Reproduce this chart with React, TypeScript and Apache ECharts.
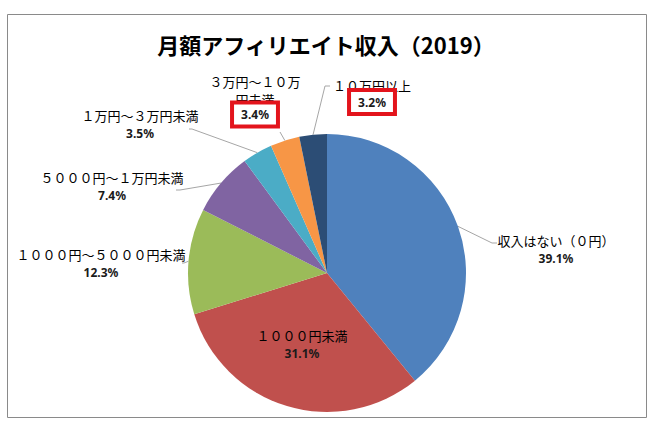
import React, { useEffect, useRef } from 'react';
import * as echarts from 'echarts';

const chartTitle = '月額アフィリエイト収入（2019）';
const categories = [
  '収入はない（０円）',
  '１０００円未満',
  '１０００円～５０００円未満',
  '５０００円～１万円未満',
  '１万円～３万円未満',
  '３万円～１０万円未満',
  '１０万円以上',
];
const shares = [39.1, 31.1, 12.3, 7.4, 3.5, 3.4, 3.2];
const sliceColors = ['#4F81BD', '#C0504D', '#9BBB59', '#8064A2', '#4BACC6', '#F79646', '#2C4D75'];
const boxedLabels = [5, 6];
const insideLabels = [1];

// layout only: label block centres, leader-line bends, name wrap positions
const labelCenters = [[556, 249], [302, 344], [101, 263], [112, 186], [140, 124], [255, 97], [372, 92]];
const leaderBends: (number[][] | null)[] = [
  [[492, 243], [497, 243]],
  null,
  [[184, 263], [182, 263]],
  [[180, 190], [176, 190]],
  [[192, 129], [189, 129]],
  [[280, 132], [280, 132]],
  [[325, 86], [330, 86]],
];
const wrapAt = [0, 0, 0, 0, 0, 7, 0];

export default function App() {
  const ref = useRef<HTMLDivElement>(null);
  useEffect(() => {
    const chart = echarts.init(ref.current!, null, { renderer: 'svg' });
    const option: any = {
      animation: false,
      backgroundColor: '#fff',
      title: {
        text: chartTitle,
        left: 'center',
        top: 33,
        padding: 0,
        textStyle: { fontSize: 22, fontWeight: 'bold', fontFamily: 'Noto Sans CJK JP', color: '#000' },
      },
      graphic: [
        {
          type: 'rect',
          silent: true,
          z: 0,
          shape: { x: 7.5, y: 14.5, width: 639, height: 403 },
          style: { fill: 'none', stroke: '#8a8a8a', lineWidth: 1 },
        },
      ],
      series: [
        {
          type: 'pie',
          center: [327, 273],
          radius: 139,
          startAngle: 90,
          clockwise: true,
          avoidLabelOverlap: false,
          data: categories.map((name, i) => ({
            name,
            value: shares[i],
            itemStyle: { color: sliceColors[i] },
            label: insideLabels.includes(i) ? { position: 'inside' } : undefined,
            labelLine: insideLabels.includes(i) ? { show: false } : undefined,
          })),
          label: {
            show: true,
            position: 'outside',
            color: '#000',
            formatter: (p: any) => {
              const i = p.dataIndex;
              const pct = Number(p.value).toFixed(1) + '%';
              const cut = wrapAt[i];
              const boxed = boxedLabels.includes(i);
              const lines = cut
                ? [`{name|${p.name.slice(0, cut)}}`, `{name2|${p.name.slice(cut)}}`]
                : [boxed ? `{nameB|${p.name}}` : `{name|${p.name}}`];
              lines.push(boxed ? `{box|${pct}}` : `{pct|${pct}}`);
              return lines.join('\n');
            },
            rich: {
              name: { fontSize: 13, lineHeight: 18, color: '#000', fontFamily: 'Noto Sans CJK JP' },
              nameB: { fontSize: 13, lineHeight: 20, color: '#000', fontFamily: 'Noto Sans CJK JP' },
              name2: { fontSize: 13, lineHeight: 17, color: '#000', fontFamily: 'Noto Sans CJK JP' },
              pct: { fontSize: 12, lineHeight: 18, fontWeight: 'bold', color: '#1a1a1a', fontFamily: 'Noto Sans' },
              box: {
                fontSize: 12,
                lineHeight: 14,
                fontWeight: 'bold',
                color: '#1a1a1a',
                fontFamily: 'Noto Sans',
                backgroundColor: '#fff',
                borderColor: '#E3141C',
                borderWidth: 4,
                padding: [4, 7],
              },
            },
          },
          labelLine: { show: true, length: 10, length2: 5, lineStyle: { color: '#a6a6a6', width: 1 } },
          labelLayout: (p: any) => {
            const i = p.dataIndex;
            const [x, y] = labelCenters[i];
            const res: any = { x, y, align: 'center', verticalAlign: 'middle' };
            const bends = leaderBends[i];
            if (bends && p.labelLinePoints) {
              res.labelLinePoints = [p.labelLinePoints[0], bends[0], bends[1]];
            }
            return res;
          },
        },
      ],
    };
    chart.setOption(option);
    return () => chart.dispose();
  }, []);
  return (
    <div
      ref={ref}
      style={{ position: 'fixed', left: 0, top: 0, width: 652, height: 426, background: '#fff' }}
    />
  );
}
